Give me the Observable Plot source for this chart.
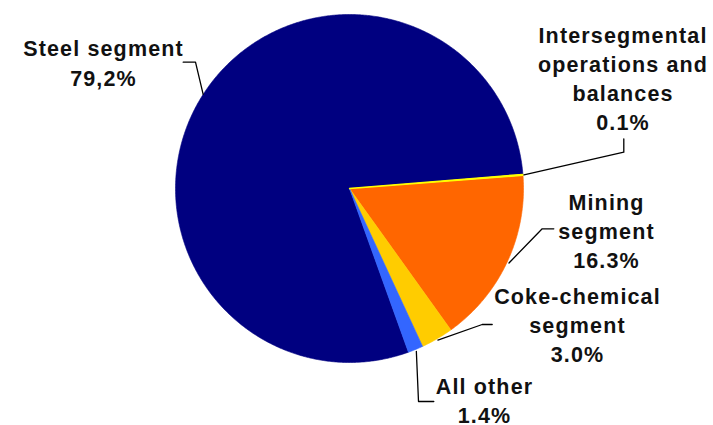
<!DOCTYPE html>
<html>
<head>
<meta charset="utf-8">
<script src="https://cdn.jsdelivr.net/npm/d3@7"></script>
<script src="https://cdn.jsdelivr.net/npm/@observablehq/plot@0.6"></script>
<style>
  html, body { margin: 0; padding: 0; background: #fff; }
  #chart svg text { letter-spacing: 1.15px; }
</style>
</head>
<body>
<div id="chart"></div>
<script>
// ---- data ----
const categories = ["Steel segment", "Intersegmental\noperations and\nbalances", "Mining\nsegment", "Coke-chemical\nsegment", "All other"];
const shares = [79.2, 0.1, 16.3, 3.0, 1.4];
const shareLabels = ["79,2%", "0.1%", "16.3%", "3.0%", "1.4%"];
const colors = ["#000080", "#FFFF00", "#FF6600", "#FFCC00", "#3366FF"];

// ---- layout (pixels) ----
const W = 713, H = 425;
const cx = 349, cy = 188, R = 174, startDeg = 160.2;
const labelLayout = [
  {x: 103, y: 85, leaderR: 174, leader: [[195, 61.7], [182.7, 61.7]]},
  {x: 622.5, y: 129.3, leaderR: 175, leader: [[623.3, 151.7], [623.3, 138.3]]},
  {x: 606, y: 267.3, leaderR: 176, leader: [[541.7, 228.3], [553.3, 228.3]]},
  {x: 577, y: 361.7, leaderR: 175.5, leader: [[481.7, 324], [491.7, 324]]},
  {x: 484, y: 422.5, leaderR: 176, leader: [[418, 401], [433.3, 401]]}
];

// ---- geometry ----
const toRad = d => d * Math.PI / 180;
const arcs = d3.pie().sort(null).startAngle(toRad(startDeg)).endAngle(toRad(startDeg + 360))(shares);
const px = (r, a) => [r * Math.sin(a), r * Math.cos(a)]; // data coords, y up

const sliceMarks = arcs.map((a, i) => {
  const pts = [[0, 0]];
  const n = Math.max(2, Math.ceil((a.endAngle - a.startAngle) / toRad(0.5)));
  for (let k = 0; k <= n; k++) {
    const t = a.startAngle + (a.endAngle - a.startAngle) * k / n;
    pts.push(px(R, t));
  }
  pts.push([0, 0]);
  return {i, pts};
});

const toData = ([x, y]) => [x - cx, cy - y];

const leaderData = [];
arcs.forEach((a, i) => {
  const mid = (a.startAngle + a.endAngle) / 2;
  const L = labelLayout[i];
  const pts = [px(L.leaderR, mid), ...L.leader.map(toData)];
  pts.forEach(p => leaderData.push({id: i, x: p[0], y: p[1]}));
});

const labelData = categories.map((c, i) => {
  const [x, y] = toData([labelLayout[i].x, labelLayout[i].y]);
  return {text: c + "\n" + shareLabels[i], x, y};
});

const order = [0, 2, 3, 4, 1];
const marks = [];
order.forEach(i => {
  const s = sliceMarks[i];
  marks.push(Plot.line(s.pts, {
    x: d => d[0], y: d => d[1], curve: "linear",
    fill: colors[i], stroke: colors[i], strokeWidth: i === 1 ? 1.3 : 0.6
  }));
});
marks.push(Plot.line(leaderData, {x: "x", y: "y", z: "id", stroke: "#000", strokeWidth: 1.3, curve: "linear"}));
marks.push(Plot.text(labelData, {
  x: "x", y: "y", text: "text", lineAnchor: "bottom", lineHeight: 1.35,
  fontSize: 21.5, fontWeight: "bold", fill: "#111", textAnchor: "middle"
}));

const chart = Plot.plot({
  width: W, height: H,
  margin: 0,
  x: {domain: [-cx, W - cx], axis: null},
  y: {domain: [-(H - cy), cy], axis: null},
  style: {fontFamily: "'Liberation Sans', Arial, sans-serif", background: "#fff", overflow: "visible"},
  marks
});
document.getElementById("chart").appendChild(chart);
</script>
</body>
</html>
